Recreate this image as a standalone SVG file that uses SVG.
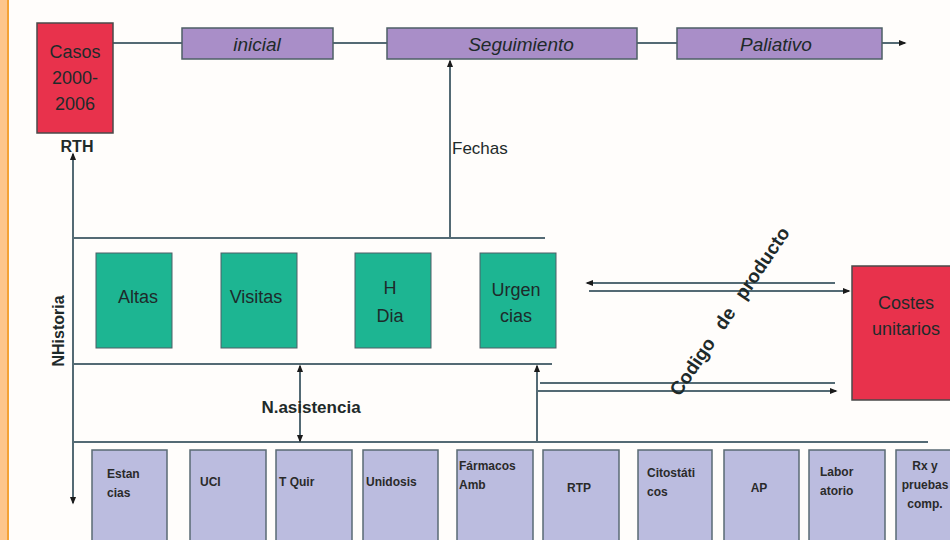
<svg xmlns="http://www.w3.org/2000/svg" width="950" height="540" viewBox="0 0 950 540">
<defs>
<marker id="ah" viewBox="0 0 10 10" refX="8" refY="5" markerWidth="8" markerHeight="8" orient="auto-start-reverse" markerUnits="userSpaceOnUse">
<path d="M0,1 L10,5 L0,9 Z" fill="#1a1a1a"/>
</marker>
<style>
.ln{stroke:#546a74;stroke-width:2;fill:none}
.red{fill:#e8324c;stroke:#4a4a4a;stroke-width:1.5}
.pur{fill:#a98ec8;stroke:#4e5f66;stroke-width:1.5}
.grn{fill:#1db592;stroke:#4e5f66;stroke-width:1}
.lav{fill:#bbbcdf;stroke:#5a6a74;stroke-width:1.5}
.t{font-family:"Liberation Sans",Arial,sans-serif;fill:#1e2a2a}
.big{font-size:18px}
.it{font-size:19px;font-style:italic}
.sm{font-size:12px;font-weight:bold;fill:#2a2a2a}
.b{font-weight:bold}
</style>
</defs>
<rect width="950" height="540" fill="#fffdfb"/>
<rect x="0" y="0" width="7" height="540" fill="#fdc68c"/>
<rect x="7" y="0" width="2" height="540" fill="#f4a236"/>

<g id="connectors">
<line class="ln" x1="113" y1="43" x2="182" y2="43"/>
<line class="ln" x1="333" y1="43" x2="387" y2="43"/>
<line class="ln" x1="637" y1="43" x2="677" y2="43"/>
<line class="ln" x1="882" y1="43" x2="905" y2="43" marker-end="url(#ah)"/>
<line class="ln" x1="450" y1="238" x2="450" y2="61" marker-end="url(#ah)"/>
<line class="ln" x1="73" y1="238" x2="73" y2="154" marker-end="url(#ah)"/>
<line class="ln" x1="73" y1="238" x2="73" y2="503" marker-end="url(#ah)"/>
<line class="ln" x1="73" y1="238" x2="545" y2="238"/>
<line class="ln" x1="73" y1="364" x2="552" y2="364"/>
<line class="ln" x1="73" y1="442" x2="928" y2="442"/>
<line class="ln" x1="300" y1="366" x2="300" y2="441" marker-start="url(#ah)" marker-end="url(#ah)"/>
<line class="ln" x1="537" y1="442" x2="537" y2="366" marker-end="url(#ah)"/>
<line class="ln" x1="540" y1="383" x2="835" y2="383"/>
<line class="ln" x1="537" y1="391" x2="836" y2="391" marker-end="url(#ah)"/>
<line class="ln" x1="835" y1="283" x2="587" y2="283" marker-end="url(#ah)"/>
<line class="ln" x1="589" y1="291" x2="849" y2="291" marker-end="url(#ah)"/>
</g>

<g id="casos"><rect class="red" x="37" y="23" width="76" height="110"/>
<text class="t big" text-anchor="middle"><tspan x="75" y="58">Casos</tspan><tspan x="75" y="84">2000-</tspan><tspan x="75" y="110">2006</tspan></text></g>
<text class="t b" x="77" y="152" font-size="16" text-anchor="middle" fill="#2a3a3a">RTH</text>
<g id="inicial"><rect class="pur" x="182" y="28" width="151" height="31"/><text class="t it" x="257" y="51" text-anchor="middle">inicial</text></g>
<g id="seguimiento"><rect class="pur" x="387" y="28" width="250" height="31"/><text class="t it" x="521" y="51" text-anchor="middle">Seguimiento</text></g>
<g id="paliativo"><rect class="pur" x="677" y="28" width="205" height="31"/><text class="t it" x="776" y="51" text-anchor="middle">Paliativo</text></g>
<text class="t" x="452" y="154" font-size="17">Fechas</text>
<text class="t b" font-size="16" text-anchor="middle" transform="translate(64,331) rotate(-90)">NHistoria</text>

<g id="altas"><rect class="grn" x="96" y="253" width="76" height="95"/><text class="t big" x="138" y="303" text-anchor="middle">Altas</text></g>
<g id="visitas"><rect class="grn" x="221" y="253" width="76" height="95"/><text class="t big" x="256" y="303" text-anchor="middle">Visitas</text></g>
<g id="hdia"><rect class="grn" x="355" y="253" width="76" height="95"/><text class="t big" text-anchor="middle"><tspan x="390" y="294">H</tspan><tspan x="390" y="322">Dia</tspan></text></g>
<g id="urgencias"><rect class="grn" x="480" y="253" width="76" height="95"/><text class="t big" text-anchor="middle"><tspan x="516" y="296">Urgen</tspan><tspan x="516" y="322">cias</tspan></text></g>

<text class="t b" x="311" y="413" font-size="17" text-anchor="middle">N.asistencia</text>
<text class="t b" font-size="19" text-anchor="middle" transform="translate(735,315) rotate(-56)" word-spacing="9">Codigo de producto</text>

<g id="costes"><rect class="red" x="852" y="266" width="110" height="134"/><text class="t big" text-anchor="middle"><tspan x="906" y="309">Costes</tspan><tspan x="906" y="335">unitarios</tspan></text></g>

<g id="estancias"><rect class="lav" x="92" y="450" width="75" height="100"/><text class="t sm"><tspan x="107" y="478">Estan</tspan><tspan x="107" y="497">cias</tspan></text></g>
<g id="uci"><rect class="lav" x="190" y="450" width="76" height="100"/><text class="t sm" x="200" y="486">UCI</text></g>
<g id="tquir"><rect class="lav" x="276" y="450" width="76" height="100"/><text class="t sm" x="279" y="486">T Quir</text></g>
<g id="unidosis"><rect class="lav" x="363" y="450" width="75" height="100"/><text class="t sm" x="366" y="486">Unidosis</text></g>
<g id="farmacos"><rect class="lav" x="457" y="450" width="76" height="100"/><text class="t sm"><tspan x="459" y="470">Fármacos</tspan><tspan x="459" y="489">Amb</tspan></text></g>
<g id="rtp"><rect class="lav" x="543" y="450" width="76" height="100"/><text class="t sm" x="579" y="492" text-anchor="middle">RTP</text></g>
<g id="citostaticos"><rect class="lav" x="638" y="450" width="74" height="100"/><text class="t sm"><tspan x="647" y="477">Citostáti</tspan><tspan x="647" y="496">cos</tspan></text></g>
<g id="ap"><rect class="lav" x="724" y="450" width="75" height="100"/><text class="t sm" x="759" y="492" text-anchor="middle">AP</text></g>
<g id="laboratorio"><rect class="lav" x="809" y="450" width="76" height="100"/><text class="t sm"><tspan x="820" y="476">Labor</tspan><tspan x="820" y="495">atorio</tspan></text></g>
<g id="rx"><rect class="lav" x="896" y="450" width="76" height="100"/><text class="t sm" text-anchor="middle"><tspan x="925" y="470">Rx y</tspan><tspan x="925" y="489">pruebas</tspan><tspan x="925" y="508">comp.</tspan></text></g>
</svg>
